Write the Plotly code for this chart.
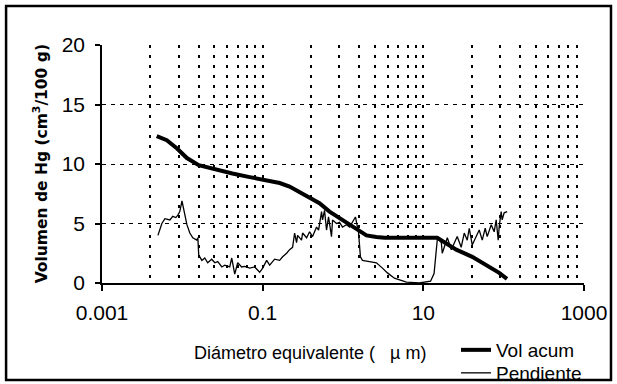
import plotly.graph_objects as go

# ---- data (diameter in µm, volume in cm3/100 g) ----
vol_x = [0.0048, 0.0064, 0.0086, 0.0114, 0.016, 0.027, 0.042, 0.069, 0.112, 0.163,
         0.216, 0.288, 0.384, 0.51, 0.68, 0.91, 1.2, 1.5, 1.96, 2.6, 3.3, 14.9,
         25.7, 40.6, 66.0, 88.0, 110.0]
vol_y = [12.35, 12.0, 11.3, 10.5, 9.9, 9.5, 9.2, 8.9, 8.6, 8.4,
         8.1, 7.65, 7.2, 6.7, 6.0, 5.45, 4.9, 4.45, 4.0, 3.87, 3.8, 3.8,
         2.8, 2.2, 1.35, 0.85, 0.35]

pend_x = [0.00497, 0.00556, 0.00607, 0.0070, 0.0076, 0.0083, 0.0088, 0.0093, 0.0099, 0.0104,
          0.0114, 0.0124, 0.0135, 0.0151, 0.0156, 0.0160, 0.0175, 0.0190, 0.0207, 0.0232,
          0.0254, 0.0276, 0.0310, 0.0337, 0.0389, 0.0412, 0.0449, 0.0489, 0.0548, 0.0597,
          0.0690, 0.0796, 0.0918, 0.1000, 0.1122, 0.1222, 0.1331, 0.141, 0.1626, 0.1771,
          0.1986, 0.2163, 0.2358, 0.2499, 0.2642, 0.2722, 0.3048, 0.3139, 0.3524, 0.3837,
          0.4179, 0.4689, 0.4966, 0.5408, 0.5561, 0.5890, 0.6238, 0.6607, 0.7194, 0.7413,
          0.8299, 0.9057, 0.9863, 1.104, 1.205, 1.312, 1.429, 1.514, 1.559, 1.648,
          1.746, 2.133, 2.608, 3.097, 3.573, 4.365, 6.15, 8.91, 12.3, 13.6,
          14.5, 15.0, 15.8, 16.75, 17.2, 18.2, 19.9, 22.3, 24.3, 26.4,
          29.6, 32.3, 35.2, 37.3, 40.6, 45.5, 49.6, 54.1, 58.9, 62.4,
          70.0, 76.2, 80.7, 85.5, 87.9, 93.1, 95.8, 101.4, 110.5]
pend_y = [4.0, 5.0, 5.4, 5.3, 5.6, 5.5, 5.7, 6.0, 6.9, 6.1,
          4.9, 4.2, 3.8, 3.6, 3.8, 2.35, 1.9, 2.1, 1.7, 2.0,
          1.7, 1.8, 1.35, 1.5, 1.35, 2.1, 0.75, 1.7, 1.35, 1.4,
          1.25, 1.35, 0.9, 1.25, 1.9, 1.5, 1.8, 2.0, 1.9, 2.2,
          2.5, 2.8, 3.0, 4.2, 3.4, 4.0, 3.6, 4.2, 3.8, 4.3,
          3.9, 4.7, 4.45, 6.0, 5.3, 6.1, 4.45, 5.55, 3.9, 5.3,
          5.0, 5.1, 4.7, 4.9, 4.7, 5.1, 5.55, 4.7, 4.3, 2.2,
          1.9, 1.8, 1.7, 1.25, 0.85, 0.4, 0.08, 0.0, 0.15, 0.8,
          2.5, 3.8, 3.6, 3.4, 2.5, 3.0, 3.8, 2.8, 3.4, 3.9,
          3.0, 4.2, 3.6, 4.6, 3.2, 4.0, 4.45, 3.6, 4.6, 3.9,
          4.9, 4.3, 5.3, 3.6, 4.7, 6.0, 5.3, 5.9, 6.0]

x_tickvals = [0.001, 0.1, 10, 1000]
x_ticktext = ["0.001", "0.1", "10", "1000"]
y_tickvals = [0, 5, 10, 15, 20]
y_gridvals = [5, 10, 15]
# vertical grid lines as drawn by the original chart (squares within each major step)
x_gridvals = [m * k * k for m in (0.001, 0.1, 10) for k in range(2, 11)]
x_gridvals = [v for v in x_gridvals if v < 1000]

fig = go.Figure()
fig.add_trace(go.Scatter(x=vol_x, y=vol_y, mode="lines", name="Vol acum",
                         line=dict(color="black", width=4), legend="legend"))
fig.add_trace(go.Scatter(x=pend_x, y=pend_y, mode="lines", name="Pendiente",
                         line=dict(color="black", width=1.3), legend="legend2"))

fig.update_xaxes(type="log", range=[-3, 3], tickmode="array", tickvals=x_tickvals,
                 ticktext=x_ticktext, showgrid=False, zeroline=False,
                 showline=True, linecolor="black", linewidth=1.5,
                 ticks="outside", ticklen=6, tickwidth=1.5, tickcolor="black",
                 ticklabelstandoff=4,
                 tickfont=dict(family="Liberation Sans, Arial", size=21, color="black"),
                 minor=dict(tickmode="array", tickvals=x_gridvals, showgrid=True,
                            gridcolor="black", gridwidth=1.5, griddash="3px,7px", ticks=""))
fig.update_yaxes(range=[0, 20], tickmode="array", tickvals=y_tickvals,
                 showgrid=False, zeroline=False,
                 showline=True, linecolor="black", linewidth=1.5,
                 ticks="outside", ticklen=5, tickwidth=1.5, tickcolor="black",
                 ticklabelstandoff=6,
                 tickfont=dict(family="Liberation Sans, Arial", size=21, color="black"),
                 minor=dict(tickmode="array", tickvals=y_gridvals, showgrid=True,
                            gridcolor="black", gridwidth=1.2, griddash="4px,5px", ticks=""))

fig.add_annotation(text="Volumen de Hg (cm<sup>3</sup>/100 g)", xref="paper", yref="paper",
                   x=-0.128, y=0.5, textangle=-90, showarrow=False,
                   xanchor="center", yanchor="middle",
                   font=dict(family="DejaVu Sans", size=15.5, color="black", weight="bold"))
fig.add_annotation(text="Diámetro equivalente (\u00a0\u00a0\u00a0µ\u00a0m)", xref="paper", yref="paper",
                   x=0.4315, y=-0.294, showarrow=False, xanchor="center", yanchor="middle",
                   font=dict(family="Liberation Sans, Arial", size=18, color="black"))

fig.add_shape(type="rect", xref="paper", yref="paper", x0=-0.199, x1=1.056,
              y0=-0.4076, y1=1.164, line=dict(color="black", width=2.5))

legend_style = dict(xref="container", yref="container", xanchor="left", yanchor="middle",
                    bgcolor="rgba(0,0,0,0)",
                    font=dict(family="Liberation Sans, Arial", size=19, color="black"))

fig.update_layout(
    width=617, height=384,
    margin=dict(l=102, r=33, t=45, b=101, autoexpand=False),
    paper_bgcolor="white", plot_bgcolor="white",
    font=dict(family="Liberation Sans, Arial", color="black"),
    showlegend=True,
    legend=dict(x=456 / 617, y=1 - 350 / 384, **legend_style),
    legend2=dict(x=456 / 617, y=1 - 373 / 384, **legend_style),
)

fig.write_html("out.html")
